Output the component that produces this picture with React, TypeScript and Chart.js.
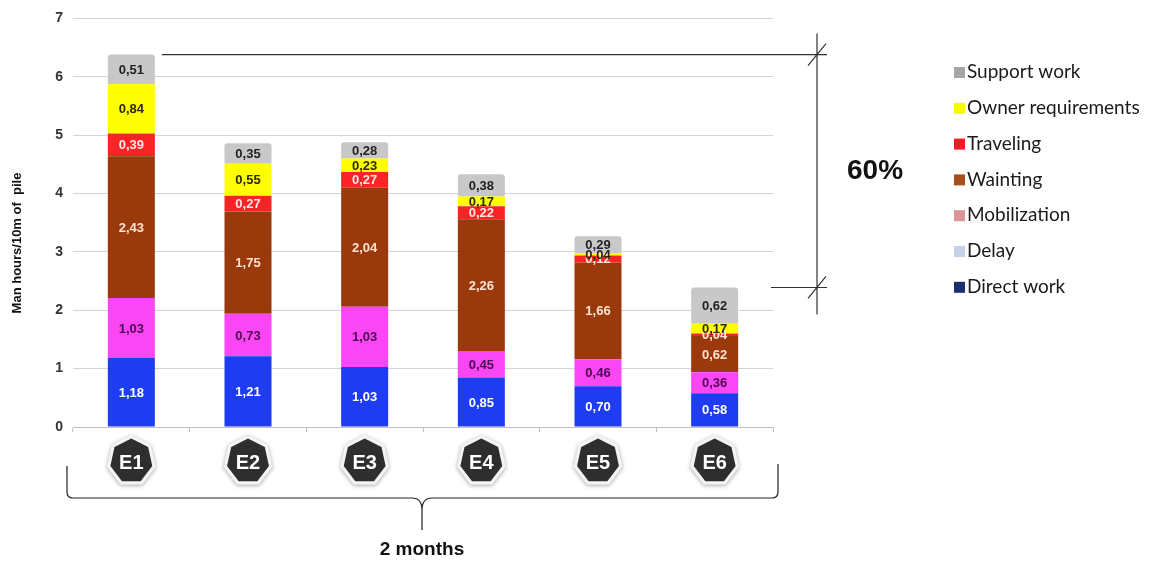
import React, { useEffect, useRef } from "react";
import { Chart, registerables } from "chart.js";

Chart.register(...registerables);

// Pile work productivity per excavation, man hours per 10 m of pile
const categories = ["E1", "E2", "E3", "E4", "E5", "E6"];
const directWork = [1.18, 1.21, 1.03, 0.85, 0.7, 0.58];
const delay = [0, 0, 0, 0, 0, 0];
const mobilization = [1.03, 0.73, 1.03, 0.45, 0.46, 0.36];
const wainting = [2.43, 1.75, 2.04, 2.26, 1.66, 0.62];
const traveling = [0.39, 0.27, 0.27, 0.22, 0.12, 0.04];
const ownerRequirements = [0.84, 0.55, 0.23, 0.17, 0.04, 0.17];
const supportWork = [0.51, 0.35, 0.28, 0.38, 0.29, 0.62];
const yTicks = [0, 1, 2, 3, 4, 5, 6, 7];
const reductionLabel = "60%";
const periodLabel = "2 months";
const yTitle = "Man hours/10m of  pile";

const FONT = "'Liberation Sans', Arial, sans-serif";

type Series = {
  label: string;
  data: number[];
  bar: string;
  text: string;
  key: string;
};

const series: Series[] = [
  { label: "Direct work", data: directWork, bar: "#1e3cf2", text: "#ffffff", key: "#1b2f6e" },
  { label: "Delay", data: delay, bar: "#c6d0e8", text: "#222222", key: "#c6d0e8" },
  { label: "Mobilization", data: mobilization, bar: "#fb46f6", text: "#4a0c4a", key: "#d99694" },
  { label: "Wainting", data: wainting, bar: "#9a3a0c", text: "#fde3d0", key: "#a5501a" },
  { label: "Traveling", data: traveling, bar: "#fb2424", text: "#ffe6e6", key: "#ee1c25" },
  { label: "Owner requirements", data: ownerRequirements, bar: "#ffff00", text: "#2a2a00", key: "#f8f800" },
  { label: "Support work", data: supportWork, bar: "#c8c8c8", text: "#222222", key: "#a6a6a6" },
];

const fmt = (v: number) => v.toFixed(2).replace(".", ",");

const total = (j: number) => series.reduce((s, d) => s + d.data[j], 0);

const overlay = {
  id: "overlay",
  afterDatasetsDraw(chart: any) {
    const ctx = chart.ctx as CanvasRenderingContext2D;
    ctx.save();
    ctx.font = `bold 13px ${FONT}`;
    ctx.textAlign = "center";
    ctx.textBaseline = "middle";
    chart.data.datasets.forEach((ds: any, i: number) => {
      const meta = chart.getDatasetMeta(i);
      meta.data.forEach((bar: any, j: number) => {
        const v = ds.data[j];
        if (!v) return;
        const { x, y, base } = bar.getProps(["x", "y", "base"], true);
        ctx.fillStyle = series[i].text;
        ctx.fillText(fmt(v), x, (y + base) / 2 + 1);
      });
    });
    ctx.restore();
  },
  afterDraw(chart: any) {
    const ctx = chart.ctx as CanvasRenderingContext2D;
    const xs = chart.scales.x;
    const ys = chart.scales.y;
    const area = chart.chartArea;
    ctx.save();

    // y axis title
    ctx.save();
    ctx.translate(17, 243);
    ctx.rotate(-Math.PI / 2);
    ctx.font = `bold 13px ${FONT}`;
    ctx.fillStyle = "#111";
    ctx.textAlign = "center";
    ctx.textBaseline = "middle";
    ctx.fillText(yTitle, 0, 0);
    ctx.restore();

    // heptagon badges under each category
    const hept = (cx: number, cy: number, rx: number, ry: number) => {
      ctx.beginPath();
      for (let k = 0; k < 7; k++) {
        const a = Math.PI / 2 + (k * 2 * Math.PI) / 7;
        const px = cx + rx * Math.cos(a);
        const py = cy - ry * Math.sin(a);
        if (k === 0) ctx.moveTo(px, py);
        else ctx.lineTo(px, py);
      }
      ctx.closePath();
    };
    categories.forEach((c, j) => {
      const cx = xs.getPixelForValue(j);
      const cy = 461;
      ctx.save();
      ctx.shadowColor = "rgba(0,0,0,0.35)";
      ctx.shadowBlur = 4;
      ctx.shadowOffsetY = 1;
      ctx.fillStyle = "#f4f4f4";
      hept(cx, cy, 25, 26);
      ctx.fill();
      ctx.restore();
      ctx.fillStyle = "#2e2e2e";
      hept(cx, cy, 21.5, 22.5);
      ctx.fill();
      ctx.fillStyle = "#ffffff";
      ctx.font = `bold 20px ${FONT}`;
      ctx.textAlign = "center";
      ctx.textBaseline = "middle";
      ctx.fillText(c, cx, cy + 2);
    });

    // brace spanning the period
    const bl = 67;
    const br = 778;
    const bm = xs.getPixelForValue(2.5) - 1;
    const by = 498;
    ctx.strokeStyle = "#222";
    ctx.lineWidth = 1.2;
    ctx.beginPath();
    ctx.moveTo(bl, 466);
    ctx.lineTo(bl, by - 6);
    ctx.quadraticCurveTo(bl, by, bl + 6, by);
    ctx.lineTo(bm - 10, by);
    ctx.quadraticCurveTo(bm, by, bm, by + 12);
    ctx.lineTo(bm, 530);
    ctx.moveTo(bm, by + 12);
    ctx.quadraticCurveTo(bm, by, bm + 10, by);
    ctx.lineTo(br - 6, by);
    ctx.quadraticCurveTo(br, by, br, by - 6);
    ctx.lineTo(br, 464);
    ctx.stroke();
    ctx.fillStyle = "#111";
    ctx.font = `bold 19px ${FONT}`;
    ctx.textAlign = "center";
    ctx.textBaseline = "middle";
    ctx.fillText(periodLabel, bm, 550);

    // dimension lines from the first to the last total
    const yTop = ys.getPixelForValue(total(0));
    const yLow = ys.getPixelForValue(total(categories.length - 1));
    const firstBar = chart.getDatasetMeta(0).data[0];
    const vx = 817;
    ctx.strokeStyle = "#333";
    ctx.lineWidth = 1.2;
    ctx.beginPath();
    ctx.moveTo(firstBar.x + firstBar.width / 2 + 7, yTop);
    ctx.lineTo(vx + 10, yTop);
    ctx.moveTo(area.right - 2, yLow);
    ctx.lineTo(vx + 10, yLow);
    ctx.moveTo(vx, yTop - 21);
    ctx.lineTo(vx, yLow + 27);
    ctx.moveTo(vx - 9, yTop + 11);
    ctx.lineTo(vx + 9, yTop - 11);
    ctx.moveTo(vx - 9, yLow + 11);
    ctx.lineTo(vx + 9, yLow - 11);
    ctx.stroke();
    ctx.fillStyle = "#111";
    ctx.font = `bold 28px ${FONT}`;
    ctx.textAlign = "left";
    ctx.textBaseline = "middle";
    ctx.fillText(reductionLabel, 847, 171);

    // legend, top of stack first
    ctx.font = `19px Lato, 'Open Sans', sans-serif`;
    ctx.textBaseline = "middle";
    ctx.textAlign = "left";
    [...series].reverse().forEach((s, k) => {
      const cy = 72 + k * 35.8;
      ctx.fillStyle = s.key;
      ctx.fillRect(954, cy - 5, 11, 11);
      ctx.fillStyle = "#1a1a1a";
      ctx.fillText(s.label, 967, cy);
    });

    ctx.restore();
  },
};

export default function App() {
  const ref = useRef<HTMLCanvasElement | null>(null);

  useEffect(() => {
    if (!ref.current) return;
    const chart = new Chart(ref.current, {
      type: "bar",
      data: {
        labels: categories,
        datasets: series.map((s, i) => ({
          label: s.label,
          data: s.data,
          backgroundColor: s.bar,
          borderWidth: 0,
          borderSkipped: false,
          borderRadius: i === series.length - 1 ? { topLeft: 3, topRight: 3, bottomLeft: 0, bottomRight: 0 } : 0,
          barPercentage: 0.403,
          categoryPercentage: 1,
        })),
      },
      options: {
        animation: false,
        responsive: false,
        devicePixelRatio: 1,
        layout: { padding: { top: 15, right: 381, bottom: 0, left: 0 } },
        plugins: {
          legend: { display: false },
          tooltip: { enabled: false },
        },
        scales: {
          x: {
            stacked: true,
            grid: {
              offset: true,
              drawOnChartArea: false,
              drawTicks: true,
              tickLength: 5,
              color: "#bfbfbf",
            },
            border: { display: true, color: "#bfbfbf" },
            ticks: { display: false },
            afterFit: (s: any) => {
              s.height = 138;
            },
          },
          y: {
            stacked: true,
            min: yTicks[0],
            max: yTicks[yTicks.length - 1],
            afterBuildTicks: (s: any) => {
              s.ticks = yTicks.map((v) => ({ value: v }));
            },
            ticks: {
              padding: 10,
              color: "#333",
              font: { family: FONT, size: 14, weight: "bold" },
            },
            grid: { color: "#d4d4d4", drawTicks: false },
            border: { display: false },
            afterFit: (s: any) => {
              s.width = 73;
            },
          },
        },
      },
      plugins: [overlay],
    });
    return () => chart.destroy();
  }, []);

  return (
    <div style={{ position: "fixed", left: 0, top: 0, width: 1154, height: 565, background: "#fff" }}>
      <canvas ref={ref} width={1154} height={565} style={{ display: "block" }} />
    </div>
  );
}
